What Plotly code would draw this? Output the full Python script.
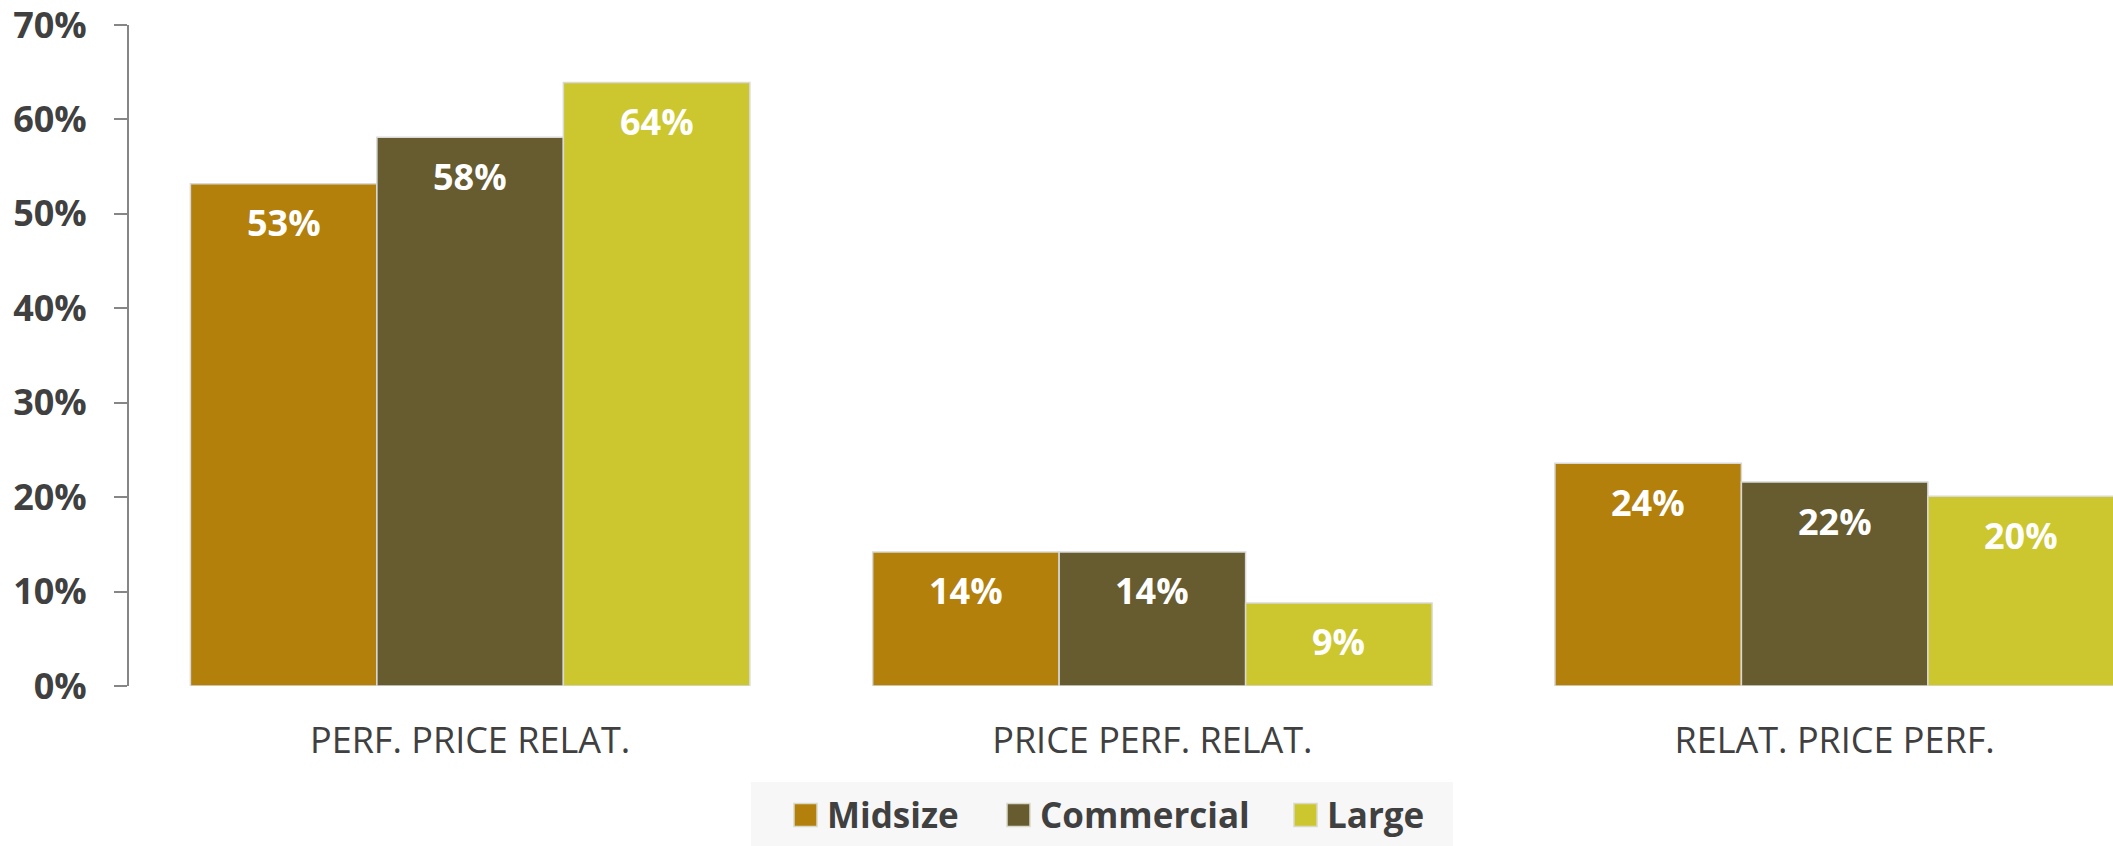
import plotly.graph_objects as go

# Survey shares by attribute ordering and company segment
categories = ["PERF. PRICE RELAT.", "PRICE PERF. RELAT.", "RELAT. PRICE PERF."]
series_names = ["Midsize", "Commercial", "Large"]
midsize = [0.532, 0.142, 0.236]
commercial = [0.581, 0.142, 0.216]
large = [0.639, 0.088, 0.201]
series_values = [midsize, commercial, large]
colors = ["#B3800C", "#675B30", "#CCC72F"]
y_ticks = [0.0, 0.1, 0.2, 0.3, 0.4, 0.5, 0.6, 0.7]

# Page geometry
W, H = 2113, 846
ML, MR, MT, MB = 129, 0, 25, 160
PLOT_W = W - ML - MR
PLOT_H = H - MT - MB
BARGAP = 0.18

TXT = "#404040"
AXIS = "#868686"


def px_x(px):
    return (px - ML) / PLOT_W


def px_y(py):
    return (H - MB - py) / PLOT_H


fig = go.Figure()
for name, vals, col in zip(series_names, series_values, colors):
    fig.add_trace(go.Bar(
        x=categories, y=vals, name=name,
        marker=dict(color=col, line=dict(color="#d9d9d9", width=1.5)),
        showlegend=False, hoverinfo="skip",
    ))

# Value labels just below the top of each bar
bar_w = (1 - BARGAP) / len(series_names)
annotations = []
for k, vals in enumerate(series_values):
    for i, v in enumerate(vals):
        annotations.append(dict(
            x=i + (k - (len(series_names) - 1) / 2) * bar_w, y=v,
            xref="x", yref="y", text=f"{v * 100:.0f}%", showarrow=False,
            yanchor="middle", yshift=-39,
            font=dict(family="Open Sans", size=36, color="white", weight="bold"),
        ))

# Legend panel below the chart
shapes = [dict(type="rect", xref="paper", yref="paper",
               x0=px_x(751), x1=px_x(1453), y0=px_y(846), y1=px_y(782),
               fillcolor="#f7f7f7", line=dict(width=0), layer="below")]
legend_left = [794, 1007, 1294]
sq = 23
leg_cy = 815
for name, col, lx in zip(series_names, colors, legend_left):
    shapes.append(dict(type="rect", xref="paper", yref="paper",
                       x0=px_x(lx), x1=px_x(lx + sq),
                       y0=px_y(leg_cy + sq / 2), y1=px_y(leg_cy - sq / 2),
                       fillcolor=col, line=dict(color="#d9d9c9", width=1.5)))
    annotations.append(dict(
        x=px_x(lx + sq + 8), y=px_y(leg_cy), xref="paper", yref="paper",
        text=name, showarrow=False, xanchor="left", yanchor="middle",
        font=dict(family="Open Sans", size=35, color=TXT, weight="bold"),
    ))

fig.update_layout(
    width=W, height=H,
    margin=dict(l=ML, r=MR, t=MT, b=MB, pad=0, autoexpand=False),
    paper_bgcolor="white", plot_bgcolor="white",
    barmode="group", bargap=BARGAP, bargroupgap=0,
    annotations=annotations, shapes=shapes,
    showlegend=False,
)
fig.update_xaxes(
    type="category", range=[-0.5, 2.408], automargin=False,
    showline=False, showgrid=False, zeroline=False, ticks="",
    tickfont=dict(family="Open Sans", size=36, color=TXT),
    ticklabelstandoff=30,
)
fig.update_yaxes(
    range=[0, 0.7], tickvals=y_ticks, tickformat=".0%", automargin=False,
    showline=True, linecolor=AXIS, linewidth=2,
    ticks="outside", ticklen=13, tickwidth=2, tickcolor=AXIS,
    showgrid=False, zeroline=False,
    tickfont=dict(family="Open Sans", size=36, color=TXT, weight="bold"),
    ticklabelstandoff=20, ticklabeloverflow="allow",
)

fig.write_html("out.html")
